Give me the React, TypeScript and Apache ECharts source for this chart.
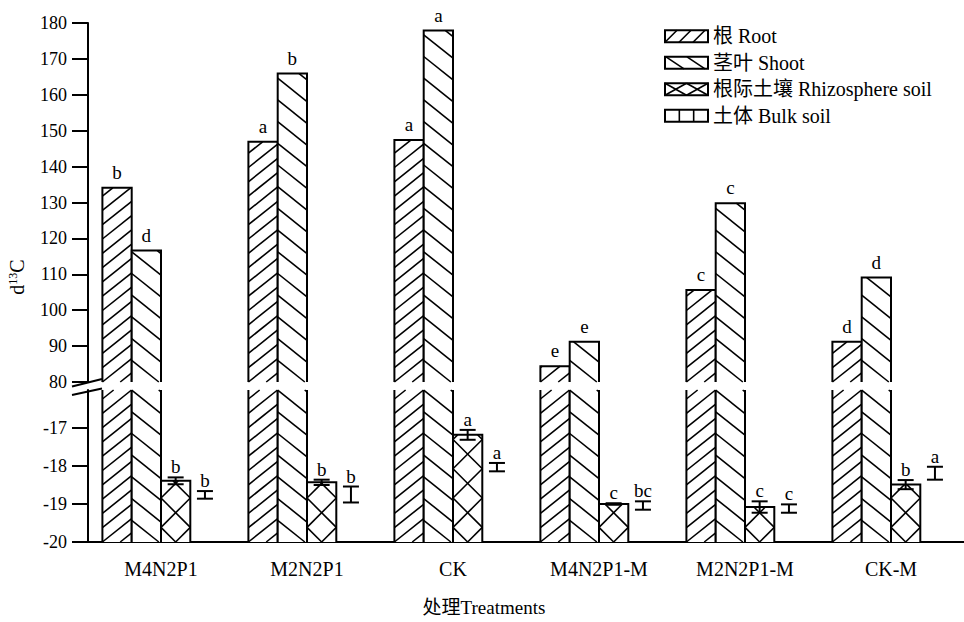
import React, { useEffect, useRef } from 'react';
import * as echarts from 'echarts';

const categories = ['M4N2P1', 'M2N2P1', 'CK', 'M4N2P1-M', 'M2N2P1-M', 'CK-M'];
const seriesNames = ['根 Root', '茎叶 Shoot', '根际土壤 Rhizosphere soil', '土体 Bulk soil'];
const rootValues = [134.1, 146.9, 147.4, 84.4, 105.6, 91.2];
const shootValues = [116.6, 165.9, 177.9, 91.2, 129.8, 109.1];
const rhizoValues = [-18.39, -18.43, -17.18, -19.0, -19.08, -18.49];
const rhizoErrors = [0.09, 0.07, 0.13, 0.02, 0.15, 0.12];
const bulkValues = [-18.76, -18.75, -18.03, -19.04, -19.12, -18.19];
const bulkErrors = [0.1, 0.21, 0.11, 0.11, 0.11, 0.17];
const rootLetters = ['b', 'a', 'a', 'e', 'c', 'd'];
const shootLetters = ['d', 'b', 'a', 'e', 'c', 'd'];
const rhizoLetters = ['b', 'b', 'a', 'c', 'c', 'b'];
const bulkLetters = ['b', 'b', 'a', 'bc', 'c', 'a'];
const upperRange = [80, 180];
const lowerRange = [-20, -16];
const lowerTickValues = [-20, -19, -18, -17];

const FONT = '"Liberation Serif", "Times New Roman", "Noto Sans CJK SC", serif';
const BAR_W = 29.3;

const allValues = [rootValues, shootValues, rhizoValues, bulkValues];
const allErrors = [null, null, rhizoErrors, bulkErrors];
const allLetters = [rootLetters, shootLetters, rhizoLetters, bulkLetters];

type Fam = { m: number; step: number; center?: boolean };
const hatchSpec: Fam[][] = [
  [{ m: 0.8, step: 14.3 }],
  [{ m: -0.8, step: 21.7 }],
  [{ m: 1, step: 29.3, center: true }, { m: -1, step: 29.3, center: true }],
  [],
];

function hatchLines(x0: number, y0: number, x1: number, y1: number, m: number, step: number, ax: number, ay: number) {
  const cs = [y0 + m * x0, y0 + m * x1, y1 + m * x0, y1 + m * x1];
  const cmin = Math.min(...cs), cmax = Math.max(...cs);
  const a = ay + m * ax;
  const k0 = Math.ceil((cmin - a) / step), k1 = Math.floor((cmax - a) / step);
  const out: any[] = [];
  for (let k = k0; k <= k1; k++) {
    const c = a + k * step;
    let xa: number, xb: number;
    if (m > 0) { xa = Math.max(x0, (c - y1) / m); xb = Math.min(x1, (c - y0) / m); }
    else { xa = Math.max(x0, (c - y0) / m); xb = Math.min(x1, (c - y1) / m); }
    if (xb - xa > 0.4) {
      out.push({ type: 'line', shape: { x1: xa, y1: c - m * xa, x2: xb, y2: c - m * xb }, style: { stroke: '#000', lineWidth: 1.6 }, silent: true });
    }
  }
  return out;
}

function makeRender(kind: number) {
  return (params: any, api: any) => {
    const i = api.value(0);
    const v = api.value(1);
    const cs = params.coordSys;
    const gTop = cs.y, gBot = cs.y + cs.height;
    const p = api.coord([i, v]);
    const cx = p[0], yv = p[1];
    const children: any[] = [];
    if (yv >= gBot) return { type: 'group', children };
    const top = Math.max(yv, gTop);
    const inRange = yv >= gTop;
    const x0 = cx - 2 * BAR_W + kind * BAR_W;
    const x1 = x0 + BAR_W;
    const xc = x0 + BAR_W / 2;
    const edge = { stroke: '#000', lineWidth: 2, fill: 'none' };
    if (kind < 3) {
      children.push({ type: 'rect', shape: { x: x0, y: top, width: BAR_W, height: gBot - top }, style: { fill: '#fff' } });
      hatchSpec[kind].forEach((f) => {
        const ax = f.center ? xc : x0;
        children.push(...hatchLines(x0, top, x1, gBot, f.m, f.step, ax, gBot));
      });
      if (inRange) {
        children.push({ type: 'polyline', shape: { points: [[x0, gBot], [x0, top], [x1, top], [x1, gBot]] }, style: edge });
      } else {
        children.push({ type: 'line', shape: { x1: x0, y1: top, x2: x0, y2: gBot }, style: edge });
        children.push({ type: 'line', shape: { x1: x1, y1: top, x2: x1, y2: gBot }, style: edge });
      }
    }
    if (inRange) {
      let labelY = top;
      const errs = allErrors[kind];
      if (errs) {
        const e = errs[i];
        const yh = api.coord([i, v + e])[1];
        const yl = api.coord([i, v - e])[1];
        const st = { stroke: '#000', lineWidth: 2 };
        children.push({ type: 'line', shape: { x1: xc, y1: yh, x2: xc, y2: yl }, style: st });
        children.push({ type: 'line', shape: { x1: xc - 8, y1: yh, x2: xc + 8, y2: yh }, style: st });
        children.push({ type: 'line', shape: { x1: xc - 8, y1: yl, x2: xc + 8, y2: yl }, style: st });
        labelY = yh - 1;
      } else {
        labelY = top - 6;
      }
      children.push({
        type: 'text',
        x: xc,
        y: labelY,
        style: { text: allLetters[kind][i], fill: '#000', fontSize: 19, fontFamily: FONT, align: 'center', verticalAlign: 'bottom' },
      });
    }
    return { type: 'group', children };
  };
}

function legendIcon(kind: number) {
  const w = 43, h = 12;
  const st = { stroke: '#000', lineWidth: 1.6 };
  const lines: number[][] = [];
  if (kind === 0) { for (let k = 0; k < 3; k++) lines.push([k * 14, h, k * 14 + 12, 0]); }
  if (kind === 1) { lines.push([1, 0, 19, h], [22, 0, 40, h]); }
  if (kind === 2) { lines.push([0, 0, w / 2, h], [w / 2, 0, 0, h], [w / 2, 0, w, h], [w, 0, w / 2, h]); }
  if (kind === 3) { lines.push([w / 3, 0, w / 3, h], [2 * w / 3, 0, 2 * w / 3, h]); }
  return [
    { type: 'rect', shape: { x: 0, y: 0, width: w, height: h }, style: { fill: '#fff' } },
    ...lines.map((l) => ({ type: 'line', shape: { x1: l[0], y1: l[1], x2: l[2], y2: l[3] }, style: st })),
    { type: 'rect', shape: { x: 0, y: 0, width: w, height: h }, style: { fill: 'none', stroke: '#000', lineWidth: 2 } },
  ];
}

export default function App() {
  const ref = useRef<HTMLDivElement>(null);
  useEffect(() => {
    if (!ref.current) return;
    const chart = echarts.init(ref.current, undefined, { renderer: 'svg' });
    const legendY = [36.3, 62.8, 89.3, 115.8];
    const series: any[] = [];
    [0, 1].forEach((g) => {
      allValues.forEach((vals, kind) => {
        series.push({
          type: 'custom',
          name: seriesNames[kind],
          xAxisIndex: g,
          yAxisIndex: g,
          renderItem: makeRender(kind),
          encode: { x: 0, y: 1 },
          data: vals.map((v, i) => [i, v]),
          clip: false,
        });
      });
    });
    const option: any = {
      animation: false,
      backgroundColor: '#fff',
      textStyle: { fontFamily: FONT },
      grid: [
        { left: 88, top: 23, width: 879, height: 359 },
        { left: 88, top: 390, width: 879, height: 152 },
      ],
      xAxis: [
        { gridIndex: 0, type: 'category', data: categories, show: false },
        {
          gridIndex: 1, type: 'category', data: categories,
          axisLine: { show: true, lineStyle: { color: '#000', width: 2 } },
          axisTick: { show: false },
          axisLabel: { fontSize: 20, color: '#000', margin: 17, fontFamily: FONT },
        },
      ],
      yAxis: [
        {
          gridIndex: 0, type: 'value', min: upperRange[0], max: upperRange[1], interval: 10,
          axisLine: { show: true, lineStyle: { color: '#000', width: 2 } },
          axisTick: { show: true, length: 16, lineStyle: { color: '#000', width: 2 } },
          axisLabel: { fontSize: 18, color: '#000', margin: 21, fontFamily: FONT },
          splitLine: { show: false },
        },
        {
          gridIndex: 1, type: 'value', min: lowerRange[0], max: lowerRange[1], interval: 1,
          axisLine: { show: true, lineStyle: { color: '#000', width: 2 } },
          axisTick: { show: true, length: 16, customValues: lowerTickValues, lineStyle: { color: '#000', width: 2 } },
          axisLabel: { fontSize: 18, color: '#000', margin: 21, fontFamily: FONT, customValues: lowerTickValues },
          splitLine: { show: false },
        },
      ],
      series,
      graphic: [
        { type: 'line', shape: { x1: 72, y1: 386.5, x2: 102, y2: 379 }, style: { stroke: '#000', lineWidth: 2 } },
        { type: 'line', shape: { x1: 72, y1: 395, x2: 102, y2: 388.5 }, style: { stroke: '#000', lineWidth: 2 } },
        {
          type: 'text', x: 17, y: 277, rotation: Math.PI / 2,
          style: {
            text: '{a|d}{b|13}{a|C}',
            align: 'center', verticalAlign: 'middle',
            rich: {
              a: { fontSize: 20, fontFamily: FONT, fill: '#000', color: '#000' },
              b: { fontSize: 12, fontFamily: FONT, fill: '#000', color: '#000', verticalAlign: 'top' },
            },
          },
        },
        {
          type: 'text', x: 484, y: 607,
          style: { text: '处理Treatments', fontSize: 19, fontFamily: FONT, fill: '#000', align: 'center', verticalAlign: 'middle' },
        },
        ...seriesNames.map((name, k) => ({
          type: 'group', x: 665, y: legendY[k] - 6,
          children: [
            ...legendIcon(k),
            { type: 'text', x: 48, y: 6, style: { text: name, fontSize: 20, fontFamily: FONT, fill: '#000', align: 'left', verticalAlign: 'middle' } },
          ],
        })),
      ],
    };
    chart.setOption(option);
    return () => chart.dispose();
  }, []);
  return <div ref={ref} style={{ position: 'fixed', left: 0, top: 0, width: 964, height: 622 }} />;
}
